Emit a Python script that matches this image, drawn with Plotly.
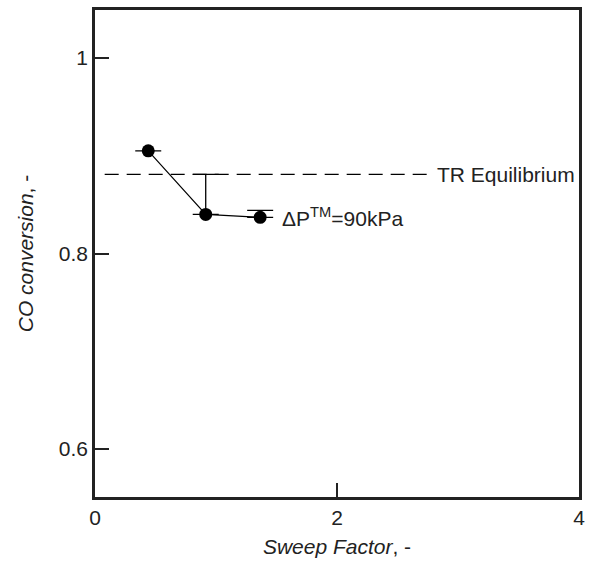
import plotly.graph_objects as go

sweep_factor = [0.44, 0.915, 1.365]
co_conversion = [0.905, 0.840, 0.837]
err_plus = [0.0, 0.041, 0.007]
err_minus = [0.0, 0.0, 0.0]
tr_equilibrium = 0.881
eq_x = [0.08, 2.78]

x_ticks = [0, 2, 4]
y_ticks = [0.6, 0.8, 1.0]
y_tick_labels = ["0.6", "0.8", "1"]

FONT = "Liberation Sans, Arial, sans-serif"
FS = 21

fig = go.Figure()
fig.add_trace(go.Scatter(
    x=eq_x, y=[tr_equilibrium, tr_equilibrium], mode="lines",
    line=dict(color="black", width=1.2, dash="14px,8px"),
    showlegend=False, hoverinfo="skip"))
fig.add_trace(go.Scatter(
    x=sweep_factor, y=co_conversion, mode="lines+markers",
    line=dict(color="black", width=1.2),
    marker=dict(color="black", size=13, symbol="circle"),
    error_y=dict(type="data", symmetric=False, array=err_plus, arrayminus=err_minus,
                 color="black", thickness=1.3, width=13),
    showlegend=False))

fig.add_annotation(x=2.81, y=tr_equilibrium, text="TR Equilibrium", showarrow=False,
                   xanchor="left", yanchor="middle", font=dict(family=FONT, size=FS, color="#222"))
fig.add_annotation(x=1.53, y=co_conversion[2], text="ΔP<sup>TM</sup>=90kPa", showarrow=False,
                   xanchor="left", yanchor="middle", font=dict(family=FONT, size=FS, color="#222"))

fig.update_layout(
    width=592, height=565,
    margin=dict(l=95, r=7, t=8, b=68),
    paper_bgcolor="white", plot_bgcolor="white",
    font=dict(family=FONT, size=FS, color="#222"),
    xaxis=dict(range=[0, 4], tickvals=x_ticks, ticktext=[str(v) for v in x_ticks],
               ticks="inside", ticklen=14, tickwidth=2, tickcolor="#222",
               showline=True, linecolor="#222", linewidth=2.5, mirror=True,
               showgrid=False, zeroline=False,
               title=dict(text="<i>Sweep Factor</i>, -", standoff=12, font=dict(size=FS))),
    yaxis=dict(range=[0.551, 1.049], tickvals=y_ticks, ticktext=y_tick_labels,
               ticks="inside", ticklen=14, tickwidth=2, tickcolor="#222",
               showline=True, linecolor="#222", linewidth=2.5, mirror=True,
               showgrid=False, zeroline=False,
               title=dict(text="<i>CO conversion</i>, -", standoff=20, font=dict(size=FS))),
)

fig.write_html("out.html")
